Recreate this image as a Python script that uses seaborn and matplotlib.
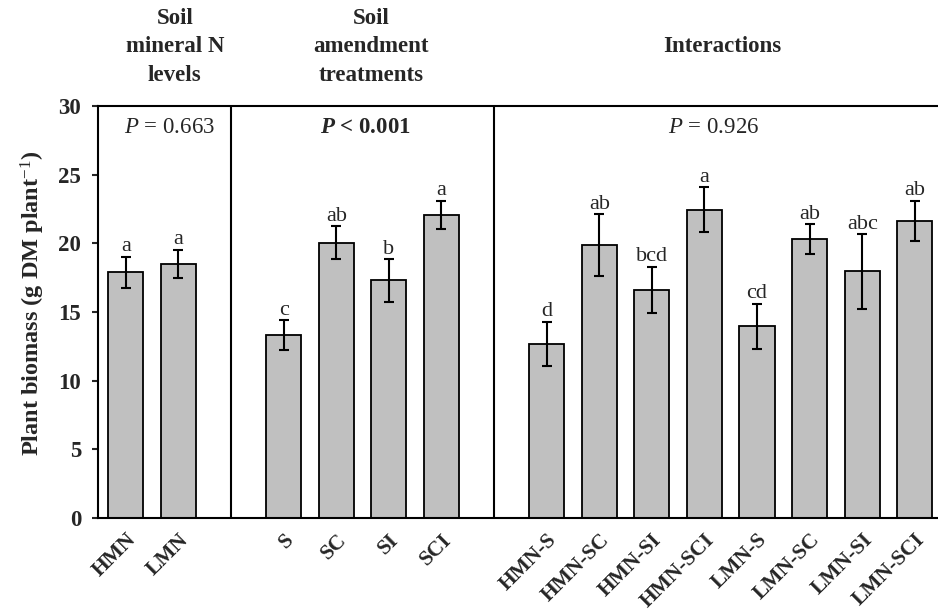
import matplotlib
matplotlib.use("Agg")
import matplotlib.pyplot as plt
import seaborn as sns
import pandas as pd

categories = ["HMN", "LMN", "S", "SC", "SI", "SCI",
              "HMN-S", "HMN-SC", "HMN-SI", "HMN-SCI",
              "LMN-S", "LMN-SC", "LMN-SI", "LMN-SCI"]
means = [17.9, 18.5, 13.3, 20.05, 17.3, 22.05,
         12.7, 19.85, 16.6, 22.45, 13.95, 20.3, 17.95, 21.63]
errors = [1.12, 1.04, 1.1, 1.2, 1.55, 1.04,
          1.6, 2.25, 1.7, 1.62, 1.64, 1.09, 2.7, 1.46]
letters = ["a", "a", "c", "ab", "b", "a",
           "d", "ab", "bcd", "a", "cd", "ab", "abc", "ab"]
group_titles = ["Soil\nmineral N\nlevels", "Soil\namendment\ntreatments", "Interactions"]
p_labels = ["$\\mathit{P}$ = 0.663", "$\\mathbfit{P}$ < 0.001", "$\\mathit{P}$ = 0.926"]

order = categories[:2] + [" "] + categories[2:6] + ["  "] + categories[6:]
df = pd.DataFrame({"category": categories, "mean": means})

sns.set_theme(style="ticks")
plt.rcParams["font.family"] = ["Liberation Serif", "DejaVu Serif"]
plt.rcParams["mathtext.fontset"] = "custom"
plt.rcParams["mathtext.rm"] = "Liberation Serif"
plt.rcParams["mathtext.it"] = "Liberation Serif:italic"
plt.rcParams["mathtext.bf"] = "Liberation Serif:bold"
plt.rcParams["mathtext.bfit"] = "Liberation Serif:italic:bold"

fig = plt.figure(figsize=(9.38, 6.13), dpi=100)
ax = fig.add_axes([98 / 938, 1 - 518 / 613, 840 / 938, (518 - 106) / 613])

sns.barplot(data=df, x="category", y="mean", order=order, color="#c0c0c0",
            saturation=1, edgecolor="black", linewidth=1.3, width=0.67,
            errorbar=None, ax=ax)

pos = [order.index(c) for c in categories]
ax.errorbar(pos, means, yerr=errors, fmt="none", ecolor="black",
            elinewidth=1.5, capsize=3.4, capthick=1.5, zorder=5)

for p, m, e, l in zip(pos, means, errors, letters):
    ax.annotate(l, (p, m + e), xytext=(0, 4), textcoords="offset points",
                ha="center", va="baseline", fontsize=16)

ax.set_xlim(-0.53, 15.44)
ax.set_ylim(0, 30)
ax.set_yticks(range(0, 31, 5))
ax.set_yticklabels([str(v) for v in range(0, 31, 5)], fontsize=16.5, fontweight="bold")
ax.set_xticks(pos)
ax.set_xticklabels(categories, rotation=45, ha="right", rotation_mode="anchor",
                   fontsize=15.5, fontweight="bold")
ax.tick_params(axis="x", length=0, pad=8.5)
ax.tick_params(axis="y", direction="out", length=4.5, width=1.5, pad=7.5)
ax.set_xlabel("")
ax.set_ylabel("Plant biomass (g DM plant$^{-1}$)", fontsize=17.5, fontweight="bold")
ax.yaxis.set_label_coords(-0.061, 0.522)

for s in ["left", "top", "bottom"]:
    ax.spines[s].set_visible(True)
    ax.spines[s].set_linewidth(1.5)
    ax.spines[s].set_color("black")
ax.spines["right"].set_visible(False)

for xs in [2, 7]:
    ax.axvline(xs, color="black", lw=1.5)

# group titles and P values
title_x = [0.93, 4.66, 11.33]
p_x = [0.82, 4.56, 11.18]
for tx, t in zip(title_x, group_titles):
    ax.text(tx, 34.3, t, ha="center", va="center", fontsize=16.5,
            fontweight="bold", linespacing=1.45, clip_on=False)
for px, pl, w in zip(p_x, p_labels, ["normal", "bold", "normal"]):
    ax.text(px, 28.4, pl, ha="center", va="center", fontsize=16.5, fontweight=w)

fig.savefig("out.png", dpi=100)
